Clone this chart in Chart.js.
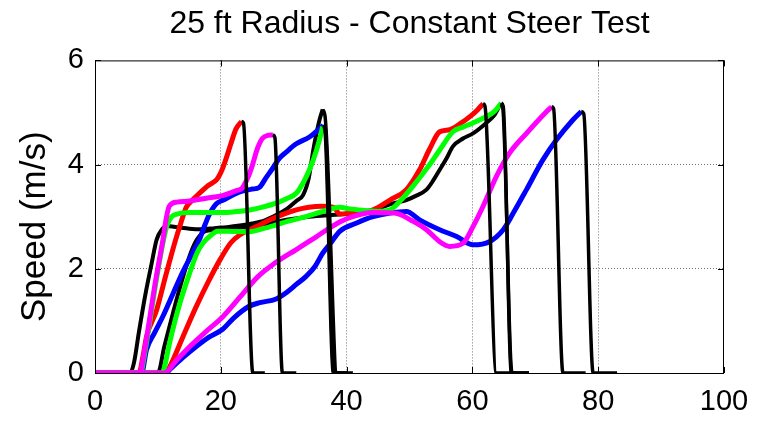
<!DOCTYPE html>
<html>
<head>
<meta charset="utf-8">
<script src="https://cdn.jsdelivr.net/npm/chart.js@4/dist/chart.umd.min.js"></script>
<style>
  html, body { margin: 0; padding: 0; background: #ffffff; }
  #wrap { width: 763px; height: 422px; }
</style>
</head>
<body>
<div id="wrap"><canvas id="c" width="763" height="422"></canvas></div>
<script>
// ---------- data ----------
const chartTitle = '25 ft Radius - Constant Steer Test';
const yAxisLabel = 'Speed (m/s)';
const xTickValues = [0, 20, 40, 60, 80, 100];
const yTickValues = [0, 2, 4, 6];

// group 1 runs
const red1X = [0, 7.0, 7.6, 8.2, 9.8, 11.2, 12.8, 13.7, 14.5, 15.5, 16.6, 18, 19.4, 20.2, 20.8, 21.6, 22.4, 23.3, 23.6, 25.1, 27];
const red1Y = [0, 0, 0.3, 0.7, 1.21, 1.85, 2.55, 2.9, 3.18, 3.32, 3.45, 3.6, 3.72, 3.9, 4.1, 4.4, 4.68, 4.83, 4.8, 0, 0];

const magenta1X = [0, 7.2, 7.4, 8.5, 9.6, 10.8, 11.3, 11.8, 13, 15, 17.5, 20.4, 22.5, 23.4, 24.3, 25, 25.8, 26.6, 27.5, 28.3, 28.6, 29.8, 32];
const magenta1Y = [0, 0, 0.1, 0.9, 1.75, 2.56, 2.95, 3.2, 3.28, 3.3, 3.35, 3.41, 3.5, 3.55, 3.75, 3.98, 4.3, 4.5, 4.56, 4.57, 4.52, 0, 0];

const blue1X = [0, 7.4, 8.2, 9.5, 10.8, 12.5, 14, 15.5, 16.6, 17.5, 18.2, 19.3, 20.4, 22, 23.4, 25, 26.1, 27.2, 28.2, 29.3, 30.4, 32, 34.1, 35.7, 36.3, 36.6, 38.0, 40];
const blue1Y = [0, 0, 0.45, 0.78, 1.09, 1.55, 1.95, 2.3, 2.56, 2.85, 3.05, 3.25, 3.32, 3.42, 3.49, 3.53, 3.56, 3.75, 3.92, 4.12, 4.24, 4.4, 4.53, 4.69, 4.75, 4.7, 0, 0];

const green1X = [0, 7.3, 7.5, 8.6, 9.7, 10.9, 11.5, 12.2, 13, 15, 17, 20, 22.5, 24.6, 26.5, 28.8, 30.5, 32, 33.6, 34.7, 35.7, 36.2, 36.5, 37.9, 40];
const green1Y = [0, 0, 0.1, 0.9, 1.75, 2.56, 2.85, 3.0, 3.05, 3.08, 3.08, 3.08, 3.1, 3.13, 3.18, 3.26, 3.35, 3.45, 3.77, 4.09, 4.48, 4.73, 4.7, 0, 0];

const black1X = [0, 5.6, 6.2, 7.0, 8.0, 9.0, 9.8, 10.6, 11.5, 13, 15, 17, 19, 21, 23, 25, 27, 28.8, 30.5, 32, 33.1, 34, 34.7, 35.3, 35.7, 36.2, 36.6, 38.5, 41];
const black1Y = [0, 0, 0.2, 0.8, 1.5, 2.1, 2.56, 2.75, 2.82, 2.8, 2.77, 2.76, 2.78, 2.8, 2.83, 2.87, 2.93, 3.03, 3.15, 3.3, 3.42, 3.75, 4.28, 4.65, 4.86, 5.06, 4.9, 0, 0];

// group 2 runs
const red2X = [0, 11.0, 11.8, 12.4, 14, 16, 18, 20, 21.6, 23, 25.7, 28, 30, 32, 34, 36, 38, 38.9, 41, 44.2, 46.9, 49.5, 51.6, 53.2, 54.8, 56.4, 58, 59.6, 60.8, 61.7, 62.0, 63.8, 67];
const red2Y = [0, 0, 0.1, 0.25, 0.7, 1.25, 1.75, 2.2, 2.5, 2.65, 2.81, 2.95, 3.05, 3.13, 3.18, 3.2, 3.18, 3.05, 3.08, 3.13, 3.32, 3.52, 3.9, 4.3, 4.63, 4.67, 4.78, 4.92, 5.05, 5.17, 5.12, 0, 0];

const black2X = [0, 10.0, 11.0, 12.5, 14.0, 15.2, 16.2, 17.5, 19, 22, 25, 28, 31, 34, 37, 40, 42, 44.2, 46, 47.5, 49.5, 51, 52.7, 53.8, 54.8, 55.9, 56.9, 58.5, 60.1, 62.2, 63.5, 64.4, 64.8, 66.3, 69];
const black2Y = [0, 0, 0.5, 1.2, 1.85, 2.3, 2.56, 2.72, 2.75, 2.78, 2.82, 2.88, 2.95, 3.0, 3.03, 3.05, 3.08, 3.13, 3.2, 3.26, 3.32, 3.4, 3.52, 3.7, 3.9, 4.12, 4.35, 4.5, 4.6, 4.8, 4.95, 5.15, 5.1, 0, 0];

const green2X = [0, 10.5, 10.9, 11.9, 13.4, 15, 16.2, 17.2, 18.5, 19.5, 21, 24.5, 27, 30.9, 33.5, 36.2, 38.9, 40.5, 43, 45, 46.9, 48.5, 50.3, 52.2, 53.5, 54.8, 56.9, 58.5, 60.1, 62.2, 63.5, 64.6, 64.9, 66.2, 69];
const green2Y = [0, 0, 0.05, 0.6, 1.3, 1.9, 2.3, 2.5, 2.65, 2.72, 2.72, 2.71, 2.78, 2.92, 3.0, 3.1, 3.18, 3.15, 3.12, 3.1, 3.13, 3.3, 3.55, 3.84, 4.05, 4.28, 4.63, 4.72, 4.8, 4.92, 5.02, 5.18, 5.12, 0, 0];

const magenta2X = [0, 11, 13, 15, 17.5, 20.4, 23, 25.9, 28.5, 32, 35, 38.9, 41.5, 44.1, 47.6, 50.6, 52.7, 54.8, 56.4, 58.5, 60.1, 61.7, 63.8, 65.9, 68.6, 71.8, 72.6, 72.9, 74.4, 78];
const magenta2Y = [0, 0, 0.25, 0.5, 0.78, 1.09, 1.45, 1.85, 2.1, 2.37, 2.6, 2.9, 3.02, 3.08, 3.07, 2.91, 2.75, 2.52, 2.43, 2.49, 2.81, 3.2, 3.77, 4.22, 4.6, 5.02, 5.11, 5.08, 0, 0];

const blue2X = [0, 11.3, 12, 14, 16, 18, 20.3, 22, 24.5, 26.2, 28.8, 30.5, 32, 33.6, 35, 36.2, 37.5, 38.9, 41.6, 44.2, 46.9, 49.5, 51.6, 54.8, 57.5, 60.1, 62.7, 64.9, 66.5, 68.6, 71.2, 73.4, 76, 77.3, 77.7, 79.2, 83];
const blue2Y = [0, 0, 0.08, 0.3, 0.5, 0.68, 0.84, 1.05, 1.28, 1.35, 1.42, 1.55, 1.7, 1.86, 2.05, 2.3, 2.5, 2.72, 2.88, 3.0, 3.07, 3.1, 2.94, 2.75, 2.62, 2.46, 2.52, 2.75, 3.07, 3.52, 4.09, 4.48, 4.86, 5.02, 4.98, 0, 0];

// ---------- build ----------
const RED = '#ff0000', GREEN = '#00ff00', BLUE = '#0000ff', MAGENTA = '#ff00ff', BLACK = '#000000';
const runs = [
  { name: 'Run 1', xs: red1X, ys: red1Y, color: RED, order: 3 },
  { name: 'Run 2', xs: magenta1X, ys: magenta1Y, color: MAGENTA, order: 1 },
  { name: 'Run 3', xs: blue1X, ys: blue1Y, color: BLUE, order: 4 },
  { name: 'Run 4', xs: green1X, ys: green1Y, color: GREEN, order: 2 },
  { name: 'Run 5', xs: black1X, ys: black1Y, color: BLACK, order: 5 },
  { name: 'Run 6', xs: red2X, ys: red2Y, color: RED, order: 3 },
  { name: 'Run 7', xs: black2X, ys: black2Y, color: BLACK, order: 5 },
  { name: 'Run 8', xs: green2X, ys: green2Y, color: GREEN, order: 2 },
  { name: 'Run 9', xs: magenta2X, ys: magenta2Y, color: MAGENTA, order: 1 },
  { name: 'Run 10', xs: blue2X, ys: blue2Y, color: BLUE, order: 4 }
];

function pts(xs, ys, a, b) {
  const out = [];
  for (let i = a; i < b; i++) out.push({ x: xs[i], y: ys[i] });
  return out;
}

const datasets = [];
runs.forEach(r => {
  let peak = 0;
  r.ys.forEach((v, i) => { if (v > r.ys[peak]) peak = i; });
  datasets.push({
    label: r.name,
    data: pts(r.xs, r.ys, 0, peak + 1),
    borderColor: r.color,
    borderWidth: r.color === BLACK ? 4 : 5,
    pointRadius: 0,
    cubicInterpolationMode: 'monotone',
    order: r.order
  });
  datasets.push({
    label: r.name + ' stop',
    data: pts(r.xs, r.ys, peak, r.xs.length),
    borderColor: BLACK,
    borderWidth: 3.5,
    pointRadius: 0,
    cubicInterpolationMode: 'monotone',
    order: 0
  });
});

const FONT = '"Liberation Sans", Arial, Helvetica, sans-serif';

const framePlugin = {
  id: 'frame',
  afterDatasetsDraw(chart) {
    const { ctx, chartArea: a, scales } = chart;
    ctx.save();
    ctx.strokeStyle = '#000';
    ctx.lineWidth = 1;
    ctx.setLineDash([]);
    ctx.strokeRect(a.left + 0.5, a.top + 0.5, a.right - a.left - 1, a.bottom - a.top);
    const tl = 6;
    ctx.beginPath();
    xTickValues.forEach(v => {
      const px = Math.round(scales.x.getPixelForValue(v)) + 0.5;
      ctx.moveTo(px, a.bottom); ctx.lineTo(px, a.bottom - tl);
      ctx.moveTo(px, a.top); ctx.lineTo(px, a.top + tl);
    });
    yTickValues.forEach(v => {
      const py = Math.round(scales.y.getPixelForValue(v)) + 0.5;
      ctx.moveTo(a.left, py); ctx.lineTo(a.left + tl, py);
      ctx.moveTo(a.right, py); ctx.lineTo(a.right - tl, py);
    });
    ctx.stroke();
    ctx.restore();
  },
  afterDraw(chart) {
    const { ctx, chartArea: a } = chart;
    ctx.save();
    ctx.fillStyle = '#000';
    ctx.font = '35px ' + FONT;
    ctx.textAlign = 'center';
    ctx.textBaseline = 'middle';
    ctx.translate(35, (a.top + a.bottom) / 2 + 10);
    ctx.rotate(-Math.PI / 2);
    ctx.fillText(yAxisLabel, 0, 0);
    ctx.restore();
  }
};

const gridColor = (ctx, edgeVals) =>
  edgeVals.includes(ctx.tick && ctx.tick.value) ? 'rgba(0,0,0,0)' : 'rgba(0,0,0,0.55)';

new Chart(document.getElementById('c'), {
  type: 'line',
  data: { datasets },
  plugins: [framePlugin],
  options: {
    responsive: false,
    animation: false,
    devicePixelRatio: 1,
    layout: { padding: { left: 0, right: 39, top: 0, bottom: 0 } },
    plugins: {
      legend: { display: false },
      tooltip: { enabled: false },
      title: {
        display: true,
        text: chartTitle,
        fullSize: false,
        color: '#000',
        font: { family: FONT, size: 32, weight: 'normal' },
        padding: { top: 5, bottom: 17 }
      }
    },
    scales: {
      x: {
        type: 'linear',
        min: 0, max: 100,
        afterBuildTicks: s => { s.ticks = xTickValues.map(v => ({ value: v })); },
        afterFit: s => { s.height = 49; },
        ticks: { color: '#000', font: { family: FONT, size: 29 }, padding: 12, maxRotation: 0 },
        grid: { color: c => gridColor(c, [0, 100]), lineWidth: 1, drawTicks: false },
        border: { display: false, dash: [1, 2] }
      },
      y: {
        type: 'linear',
        min: 0, max: 6,
        afterBuildTicks: s => { s.ticks = yTickValues.map(v => ({ value: v })); },
        afterFit: s => { s.width = 95; },
        ticks: { color: '#000', font: { family: FONT, size: 29 }, padding: 11 },
        grid: { color: c => gridColor(c, [0, 6]), lineWidth: 1, drawTicks: false },
        border: { display: false, dash: [1, 2] }
      }
    }
  }
});
</script>
</body>
</html>
